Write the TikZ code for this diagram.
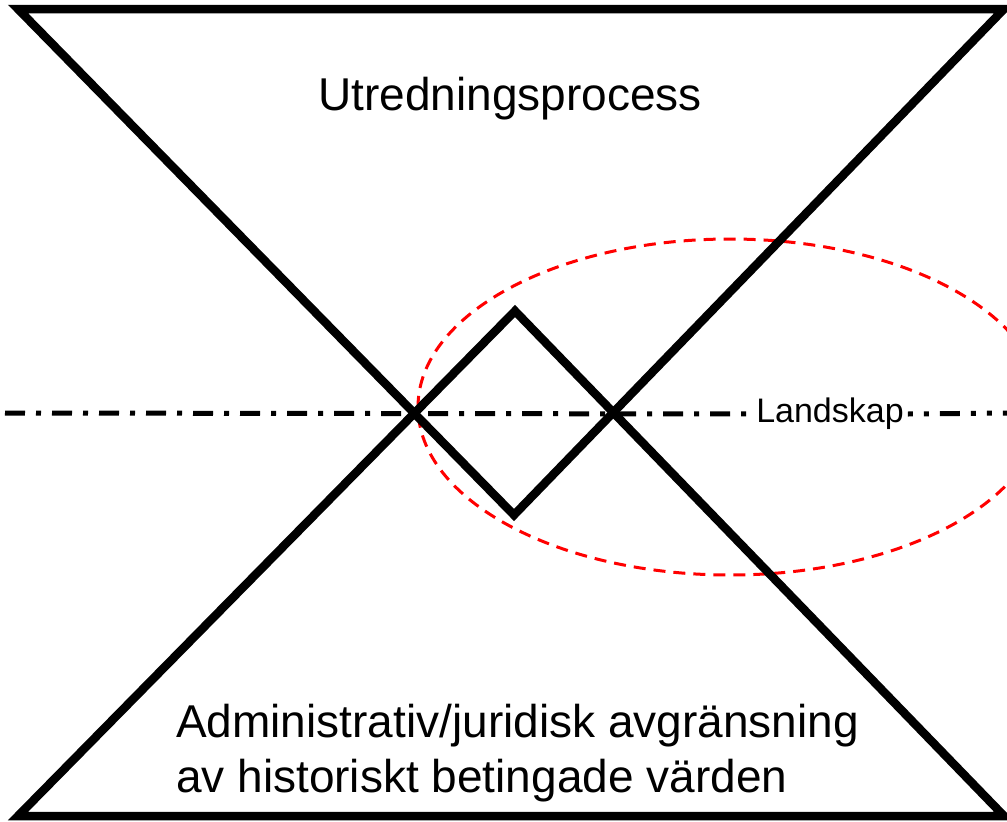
\documentclass[tikz,border=0pt]{standalone}
\usepackage{fontspec}
\setmainfont{Liberation Sans}
\usetikzlibrary{shapes.geometric}
\begin{document}
\begin{tikzpicture}[x=1pt,y=-1pt,
  tri/.style={line width=8.5pt,line join=miter,black},
  axisdd/.style={line width=5pt,black,dash pattern=on 20pt off 11pt on 5pt off 11pt},
  axisddd/.style={line width=5pt,black,dash pattern=on 5pt off 11pt on 5pt off 11pt on 20pt off 11pt},
  ring/.style={line width=3pt,red,dash pattern=on 12pt off 8pt},
  bigtext/.style={font=\fontsize{46}{55}\selectfont,inner sep=0pt},
  smalltext/.style={font=\fontsize{34}{40}\selectfont,fill=white,inner sep=4pt}]
\useasboundingbox (0,0) rectangle (1007,822);
\begin{scope}
\clip (0,0) rectangle (1007,822);
% coordinates
\coordinate (tl) at (18,9);
\coordinate (tr) at (1004,9);
\coordinate (ta) at (514,515);
\coordinate (bl) at (18,816);
\coordinate (br) at (1004,816);
\coordinate (ba) at (515,311);
\coordinate (lx) at (5,413);
\coordinate (rx) at (1010,413);
% ellipse
\node[ring,draw,shape=ellipse,minimum width=624pt,minimum height=336pt,inner sep=0pt] (oval) at (730,407) {};
% triangles
\draw[tri] (tl) -- (tr) -- (ta) -- cycle;
\draw[tri] (bl) -- (br) -- (ba) -- cycle;
% label
\node[smalltext] (land) at (830,414) {Landskap};
\draw[axisdd] (lx) -- (land.west);
\draw[axisddd] (land.east) -- (rx);
\end{scope}
\node[bigtext,anchor=base] (top) at (510,110) {Utredningsprocess};
\node[bigtext,anchor=base west] (b1) at (176,737) {Administrativ/juridisk avgränsning};
\node[bigtext,anchor=base west] (b2) at (176,792) {av historiskt betingade värden};
\end{tikzpicture}
\end{document}
